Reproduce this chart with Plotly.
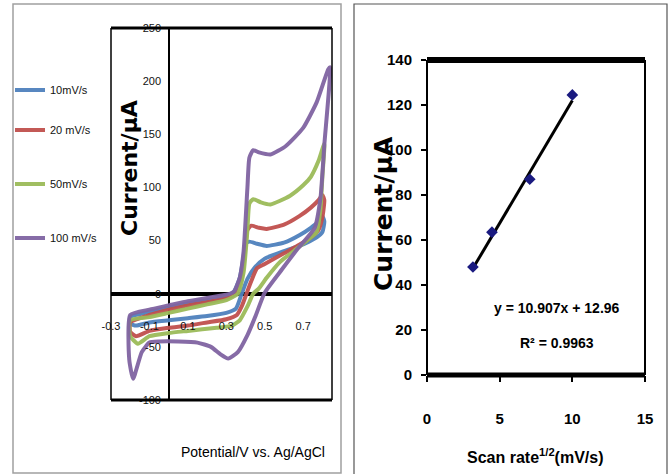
import plotly.graph_objects as go

W, H = 670, 474

# ---------------- Data: cyclic voltammograms (E in V, I in uA) ----------------
scan_labels = ["10mV/s", "20 mV/s", "50mV/s", "100 mV/s"]
colors = ["#4F81BD", "#C0504D", "#9BBB59", "#8064A2"]

E_10 = [-0.20, -0.10, 0.00, 0.10, 0.20, 0.30, 0.34, 0.37, 0.39, 0.40, 0.42, 0.46, 0.51, 0.60, 0.68, 0.74, 0.78, 0.80,
        0.81, 0.80, 0.77, 0.73, 0.68, 0.60, 0.50, 0.45, 0.41, 0.38, 0.35, 0.30, 0.20, 0.10, 0.00, -0.10, -0.17, -0.20, -0.20]
I_10 = [-22, -17, -13, -9, -6, -2, 2, 15, 35, 47, 49, 47, 45, 48, 55, 62, 68, 73,
        68, 58, 53, 49, 45, 40, 33, 25, 14, 0, -14, -18, -21, -23, -25, -27, -30, -28, -22]

E_20 = [-0.20, -0.10, 0.00, 0.10, 0.20, 0.30, 0.35, 0.38, 0.40, 0.41, 0.43, 0.47, 0.51, 0.60, 0.68, 0.74, 0.78, 0.80,
        0.81, 0.80, 0.78, 0.74, 0.68, 0.60, 0.50, 0.46, 0.43, 0.405, 0.38, 0.355, 0.30, 0.20, 0.10, 0.00, -0.10, -0.17, -0.20, -0.20]
I_20 = [-27, -20, -15, -11, -8, -4, 0, 15, 45, 60, 64, 62, 61, 65, 73, 81, 88, 93,
        88, 72, 60, 53, 46, 38, 28, 24, 12, 0, -12, -20, -24, -27, -30, -32, -35, -40, -36, -27]

E_50 = [-0.20, -0.10, 0.00, 0.10, 0.20, 0.30, 0.36, 0.39, 0.41, 0.42, 0.44, 0.48, 0.53, 0.63, 0.70, 0.74, 0.78, 0.81,
        0.80, 0.79, 0.77, 0.72, 0.65, 0.58, 0.51, 0.47, 0.44, 0.41, 0.37, 0.33, 0.25, 0.10, 0.00, -0.10, -0.16, -0.20, -0.20]
I_50 = [-25, -22, -18, -14, -10, -6, 0, 20, 60, 85, 89, 86, 84, 92, 102, 110, 125, 141,
        110, 80, 58, 50, 40, 30, 15, 5, 0, -12, -25, -30, -32, -35, -37, -40, -47, -40, -25]

E_100 = [-0.20, -0.10, 0.00, 0.10, 0.20, 0.30, 0.34, 0.37, 0.39, 0.41, 0.42, 0.44, 0.47, 0.53, 0.61, 0.70, 0.77, 0.83, 0.84,
         0.81, 0.79, 0.76, 0.67, 0.59, 0.50, 0.45, 0.41, 0.36, 0.31, 0.27, 0.22, 0.15, 0.05, -0.05, -0.10, -0.14, -0.185, -0.205, -0.20]
I_100 = [-20, -15, -11, -7, -4, -1, 2, 15, 40, 100, 128, 135, 133, 131, 139, 156, 180, 211, 213,
         140, 90, 62, 42, 23, 1, -22, -39, -55, -61, -57, -50, -46, -45, -45, -46, -55, -80, -62, -20]

cv_E = [E_10, E_20, E_50, E_100]
cv_I = [I_10, I_20, I_50, I_100]

# ---------------- Data: peak current vs sqrt(scan rate) ----------------
sqrt_rate = [3.16, 4.47, 7.07, 10.0]
peak_current = [48, 63.5, 87, 124.5]
trend_x = [3.16, 10.0]
trend_y = [47.4, 122.0]
eq_text = "y = 10.907x + 12.96"
r2_text = "R² = 0.9963"

cv_xticks = [-0.3, -0.1, 0.1, 0.3, 0.5, 0.7]
cv_yticks = [-100, -50, 0, 50, 100, 150, 200, 250]
lin_xticks = [0, 5, 10, 15]
lin_yticks = [0, 20, 40, 60, 80, 100, 120, 140]


def px(x):
    return x / W


def py(y):
    return 1 - y / H


SANS = "Liberation Sans, Arial, sans-serif"
WIDE = "DejaVu Sans, Verdana, sans-serif"

fig = go.Figure()

legend_y = [90, 130, 184, 238]
legend_names = ["legend", "legend2", "legend3", "legend4"]
for k in range(4):
    fig.add_trace(go.Scatter(
        x=cv_E[k], y=cv_I[k], mode="lines", name=scan_labels[k],
        line=dict(color=colors[k], width=4, shape="spline", smoothing=0.5),
        xaxis="x", yaxis="y", legend=legend_names[k], showlegend=True, opacity=0.95))

fig.add_trace(go.Scatter(x=trend_x, y=trend_y, mode="lines",
                         line=dict(color="black", width=3), xaxis="x2", yaxis="y2",
                         showlegend=False))
fig.add_trace(go.Scatter(x=sqrt_rate, y=peak_current, mode="markers",
                         marker=dict(symbol="diamond", size=9, color="#1A1A80"),
                         xaxis="x2", yaxis="y2", showlegend=False))

layout = dict(
    width=W, height=H, autosize=False,
    margin=dict(l=0, r=0, t=0, b=0, pad=0, autoexpand=False),
    paper_bgcolor="white", plot_bgcolor="white",
    xaxis=dict(domain=[px(111), px(332)], range=[-0.3, 0.85],
               tickvals=cv_xticks, ticktext=[str(v) for v in cv_xticks],
               showgrid=False, zeroline=True, zerolinecolor="black", zerolinewidth=2,
               anchor="free", position=py(318), showline=False, ticks="", automargin=False,
               tickfont=dict(family=SANS, size=11, color="#111")),
    yaxis=dict(domain=[py(400), py(28)], range=[-100, 250],
               tickvals=cv_yticks, ticktext=[str(v) for v in cv_yticks],
               showgrid=False, zeroline=True, zerolinecolor="black", zerolinewidth=4,
               anchor="free", position=px(168), showline=False, ticks="", automargin=False,
               ticklabelstandoff=7,
               tickfont=dict(family=SANS, size=11, color="#111")),
    xaxis2=dict(domain=[px(427), px(645)], range=[0, 15], tickvals=lin_xticks,
                showgrid=False, zeroline=False, anchor="y2", showline=False, automargin=False,
                ticks="outside", ticklen=6, tickwidth=1.5, tickcolor="black",
                ticklabelstandoff=24,
                tickfont=dict(family=SANS, size=15, color="black", weight="bold")),
    yaxis2=dict(domain=[py(375), py(60)], range=[0, 140], tickvals=lin_yticks,
                showgrid=False, zeroline=False, anchor="x2", showline=False, automargin=False,
                ticks="outside", ticklen=5, tickwidth=1.5, tickcolor="black",
                ticklabelstandoff=6,
                tickfont=dict(family=SANS, size=15, color="black", weight="bold")),
)

for k, nm in enumerate(legend_names):
    layout[nm] = dict(x=px(10), y=py(legend_y[k]), xanchor="left", yanchor="middle",
                      bgcolor="rgba(0,0,0,0)", borderwidth=0, itemwidth=30,
                      font=dict(family=SANS, size=11, color="#111"))

shapes = []
# outer panel frames
shapes.append(dict(type="rect", xref="paper", yref="paper", x0=px(13), x1=px(341), y0=py(473), y1=py(4),
                   line=dict(color="#A0A0A0", width=1.5)))
shapes.append(dict(type="rect", xref="paper", yref="paper", x0=px(354), x1=px(667), y0=py(480), y1=py(4),
                   line=dict(color="#555", width=1.2)))
# left plot frame
shapes += [
    dict(type="line", xref="x domain", yref="y domain", x0=0, x1=1, y0=1, y1=1, line=dict(color="black", width=3)),
    dict(type="line", xref="x domain", yref="y domain", x0=0, x1=1, y0=0, y1=0, line=dict(color="black", width=3)),
    dict(type="line", xref="x domain", yref="y domain", x0=0, x1=0, y0=0, y1=1, line=dict(color="black", width=1.5)),
    dict(type="line", xref="x domain", yref="y domain", x0=1, x1=1, y0=0, y1=1, line=dict(color="black", width=1.5)),
]
# right plot frame
shapes += [
    dict(type="line", xref="x2 domain", yref="y2 domain", x0=0, x1=1, y0=1, y1=1, line=dict(color="black", width=6)),
    dict(type="line", xref="x2 domain", yref="y2 domain", x0=0, x1=1, y0=0, y1=0, line=dict(color="black", width=5)),
    dict(type="line", xref="x2 domain", yref="y2 domain", x0=0, x1=0, y0=0, y1=1, line=dict(color="black", width=2)),
    dict(type="line", xref="x2 domain", yref="y2 domain", x0=1, x1=1, y0=0, y1=1, line=dict(color="black", width=2)),
]
layout["shapes"] = shapes

annotations = [
    dict(text="Current/µA", xref="paper", yref="paper", x=px(129), y=py(168), textangle=-90,
         showarrow=False, xanchor="center", yanchor="middle",
         font=dict(family=WIDE, size=22, color="black", weight="bold")),
    dict(text="Potential/V vs. Ag/AgCl", xref="paper", yref="paper", x=px(253), y=py(452),
         showarrow=False, xanchor="center", yanchor="middle",
         font=dict(family=SANS, size=14, color="black")),
    dict(text="Current/µA", xref="paper", yref="paper", x=px(383), y=py(214), textangle=-90,
         showarrow=False, xanchor="center", yanchor="middle",
         font=dict(family=WIDE, size=25, color="black", weight="bold")),
    dict(text="Scan rate<sup>1/2</sup>(mV/s)", xref="paper", yref="paper", x=px(535), y=py(456),
         showarrow=False, xanchor="center", yanchor="middle",
         font=dict(family=SANS, size=16, color="black", weight="bold")),
    dict(text=eq_text, xref="paper", yref="paper", x=px(557), y=py(308),
         showarrow=False, xanchor="center", yanchor="middle",
         font=dict(family=SANS, size=14, color="black", weight="bold")),
    dict(text=r2_text, xref="paper", yref="paper", x=px(557), y=py(343),
         showarrow=False, xanchor="center", yanchor="middle",
         font=dict(family=SANS, size=14, color="black", weight="bold")),
]
layout["annotations"] = annotations

fig.update_layout(**layout)
fig.write_html("out.html", config={"displayModeBar": False},
               post_script="document.body.style.margin='0';document.body.style.padding='0';")
